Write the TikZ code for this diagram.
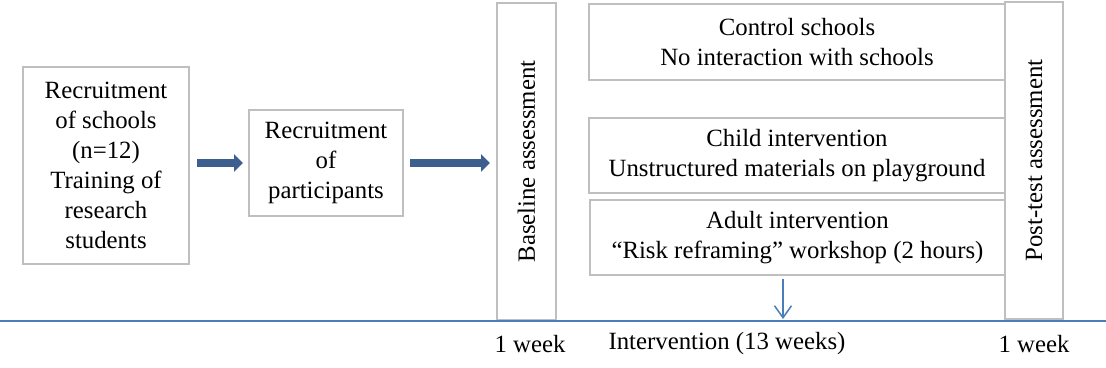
\documentclass[tikz,border=0pt]{standalone}
\usepackage{fontspec}
\setmainfont{Liberation Serif}
\usetikzlibrary{arrows.meta}
\definecolor{boxgray}{HTML}{BFBFBF}
\definecolor{fatblue}{HTML}{3C5F8F}
\definecolor{lineblue}{HTML}{4A7EBB}
\begin{document}
\begin{tikzpicture}[x=1pt,y=-1pt,
  txt/.style={font=\fontsize{24.8}{30}\selectfont},
  box/.style={draw=boxgray, line width=2pt, align=center, inner sep=0pt, txt},
  fat/.style={draw=fatblue, line width=8pt, -{Triangle[width=17pt,length=9pt]}},
  thin/.style={draw=lineblue, line width=1.5pt, -{Straight Barb[length=12pt,width=17pt]}}]
\useasboundingbox (0,0) rectangle (1106,367);
\node[box, minimum width=166pt, minimum height=197pt] (b1) at (106,165.5)
  {Recruitment\\of schools\\(n=12)\\Training of\\research\\students};
\node[box, minimum width=154pt, minimum height=106pt] (b2) at (326,163)
  {Recruitment\\of\\participants};
\node[box, minimum width=59pt, minimum height=317pt] (base) at (526.5,161.5) {};
\node[txt, rotate=90] (baset) at (base.center) {Baseline assessment};
\node[box, minimum width=416pt, minimum height=76pt] (ctrl) at (797,42)
  {Control schools\\No interaction with schools};
\node[box, minimum width=416pt, minimum height=75pt] (child) at (797,155.5)
  {Child intervention\\Unstructured materials\ on playground};
\node[box, minimum width=415pt, minimum height=75pt] (adult) at (797.5,237.5)
  {Adult intervention\\``Risk reframing''\ workshop (2 hours)};
\node[box, minimum width=58pt, minimum height=317pt] (post) at (1034,160.5) {};
\node[txt, rotate=90] (postt) at (post.center) {Post-test assessment};
\coordinate (tl0) at (0,321);
\coordinate (tl1) at (1106,321);
\draw[lineblue, line width=2pt] (tl0) -- (tl1);
\coordinate (tlarr) at (783,319);
\draw[fat, shorten <=7pt, shorten >=5pt] (b1.east |- 0,163) -- (b2.west |- 0,163);
\draw[fat, shorten <=6pt, shorten >=6pt] (b2.east |- 0,163) -- (base.west |- 0,163);
\draw[thin, shorten <=3pt] (adult.south -| tlarr) -- (tlarr);
\node[txt] (w1) at (530,344) {1 week};
\node[txt] (iv) at (727,344) {Intervention (13 weeks)};
\node[txt] (w2) at (1034,344) {1 week};
\end{tikzpicture}
\end{document}
